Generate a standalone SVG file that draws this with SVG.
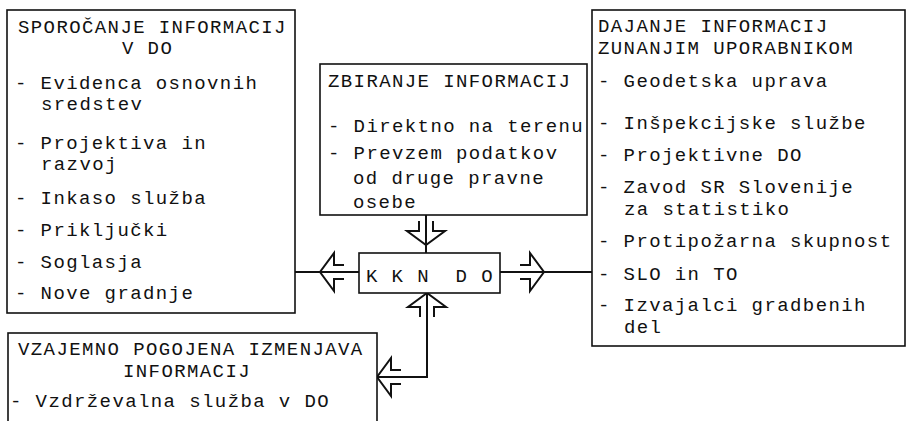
<svg xmlns="http://www.w3.org/2000/svg" xmlns:xlink="http://www.w3.org/1999/xlink" width="906" height="421" viewBox="0 0 906 421">
<style>
.box{fill:#fff;stroke:#111;stroke-width:1.6}
.t{font-family:"Liberation Mono","Courier New",monospace;font-size:19px;letter-spacing:1.4px;fill:#111}
.ln{fill:none;stroke:#111;stroke-width:2}
.ar{fill:none;stroke:#111;stroke-width:2;stroke-linejoin:miter}
</style>
<defs>
<path id="arr" class="ar" d="M-24,-7 H-14 V-19 L0,0 L-14,19 V7 H-24"/>
</defs>
<rect width="906" height="421" fill="#fff"/>
<g id="connectors">
<line class="ln" x1="295" y1="272" x2="359" y2="272"/>
<line class="ln" x1="500" y1="272" x2="592" y2="272"/>
<line class="ln" x1="426" y1="215" x2="426" y2="253"/>
<polyline class="ln" points="427,293 427,377 377,377"/>
<use xlink:href="#arr" transform="translate(320,272) rotate(180)"/>
<use xlink:href="#arr" transform="translate(544,272)"/>
<use xlink:href="#arr" transform="translate(426,245) rotate(90)"/>
<use xlink:href="#arr" transform="translate(427,293) rotate(-90)"/>
<use xlink:href="#arr" transform="translate(377,377) rotate(180)"/>
</g>
<g id="sporocanje">
<rect class="box" x="7" y="10" width="288" height="303"/>
<text class="t" x="18" y="33">SPOROČANJE INFORMACIJ</text>
<text class="t" x="122" y="54">V DO</text>
<text class="t" x="15" y="89">- Evidenca osnovnih</text>
<text class="t" x="41" y="110">sredstev</text>
<text class="t" x="15" y="149">- Projektiva in</text>
<text class="t" x="41" y="170">razvoj</text>
<text class="t" x="15" y="204">- Inkaso služba</text>
<text class="t" x="15" y="236">- Priključki</text>
<text class="t" x="15" y="268">- Soglasja</text>
<text class="t" x="15" y="299">- Nove gradnje</text>
</g>
<g id="zbiranje">
<rect class="box" x="320" y="64" width="267" height="151"/>
<text class="t" x="328" y="87">ZBIRANJE INFORMACIJ</text>
<text class="t" x="328" y="132">- Direktno na terenu</text>
<text class="t" x="328" y="159">- Prevzem podatkov</text>
<text class="t" x="353" y="184">od druge pravne</text>
<text class="t" x="353" y="208">osebe</text>
</g>
<g id="kkndo">
<rect class="box" x="359" y="253" width="141" height="40"/>
<text class="t" x="366" y="282" xml:space="preserve">K K N  D O</text>
</g>
<g id="dajanje">
<rect class="box" x="592" y="10" width="313" height="336"/>
<text class="t" x="598" y="32">DAJANJE INFORMACIJ</text>
<text class="t" x="598" y="54">ZUNANJIM UPORABNIKOM</text>
<text class="t" x="598" y="87">- Geodetska uprava</text>
<text class="t" x="598" y="129">- Inšpekcijske službe</text>
<text class="t" x="598" y="161">- Projektivne DO</text>
<text class="t" x="598" y="193">- Zavod SR Slovenije</text>
<text class="t" x="624" y="215">za statistiko</text>
<text class="t" x="598" y="247">- Protipožarna skupnost</text>
<text class="t" x="598" y="280">- SLO in TO</text>
<text class="t" x="598" y="311">- Izvajalci gradbenih</text>
<text class="t" x="624" y="333">del</text>
</g>
<g id="vzajemno">
<rect class="box" x="8" y="333" width="369" height="100"/>
<text class="t" x="18" y="355">VZAJEMNO POGOJENA IZMENJAVA</text>
<text class="t" x="123" y="377">INFORMACIJ</text>
<text class="t" x="10" y="407">- Vzdrževalna služba v DO</text>
</g>
</svg>
